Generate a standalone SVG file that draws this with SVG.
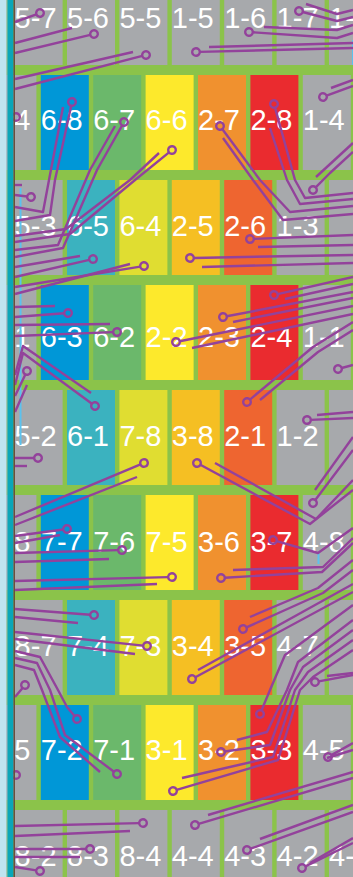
<svg xmlns="http://www.w3.org/2000/svg" width="353" height="877" viewBox="0 0 353 877">
<style>
.g{fill:#A7A9AC}.b{fill:#0097D7}.gr{fill:#6BB86B}.y{fill:#FDE92C}.o{fill:#F0912F}.r{fill:#EA2B2F}
.t{fill:#3BB2BF}.yg{fill:#E0DD31}.gd{fill:#F5BF23}.or{fill:#EE6530}
text{font-family:"Liberation Sans",Arial,sans-serif;font-size:29px;fill:#fff}
.w{fill:none;stroke:#93429B;stroke-width:2.4;stroke-linejoin:round}
.pin{stroke-dasharray:0 3.8 3000 0;marker-start:url(#pin)}
.dot{fill:none;stroke:#93429B;stroke-width:2.4}
</style>
<defs>
<marker id="pin" markerUnits="userSpaceOnUse" viewBox="-6 -6 12 12" markerWidth="12" markerHeight="12" refX="0" refY="0" orient="auto" overflow="visible"><circle r="3.8" fill="none" stroke="#93429B" stroke-width="2.4"/></marker>
</defs>
<rect width="353" height="877" fill="#8BC34A"/>
<g id="row0">
<g id="n5-7"><rect class="g" x="14.6" y="-30" width="48" height="95"/><text x="14.6" y="28">5-7</text></g>
<g id="n5-6"><rect class="g" x="67" y="-30" width="48" height="95"/><text x="67" y="28">5-6</text></g>
<g id="n5-5"><rect class="g" x="119.4" y="-30" width="48" height="95"/><text x="119.4" y="28">5-5</text></g>
<g id="n1-5"><rect class="g" x="171.8" y="-30" width="48" height="95"/><text x="171.8" y="28">1-5</text></g>
<g id="n1-6"><rect class="g" x="224.2" y="-30" width="48" height="95"/><text x="224.2" y="28">1-6</text></g>
<g id="n1-7"><rect class="g" x="276.6" y="-30" width="48" height="95"/><text x="276.6" y="28">1-7</text></g>
<g id="n1-8"><rect class="g" x="329" y="-30" width="48" height="95"/><text x="329" y="28">1-</text></g>
</g>
<g id="row1">
<g id="n5-4"><rect class="g" x="-11.6" y="75" width="48" height="95"/><text x="14.2" y="130">4</text></g>
<g id="n6-8"><rect class="b" x="40.8" y="75" width="48" height="95"/><text x="40.8" y="130">6-8</text></g>
<g id="n6-7"><rect class="gr" x="93.2" y="75" width="48" height="95"/><text x="93.2" y="130">6-7</text></g>
<g id="n6-6"><rect class="y" x="145.6" y="75" width="48" height="95"/><text x="145.6" y="130">6-6</text></g>
<g id="n2-7"><rect class="o" x="198" y="75" width="48" height="95"/><text x="198" y="130">2-7</text></g>
<g id="n2-8"><rect class="r" x="250.4" y="75" width="48" height="95"/><text x="250.4" y="130">2-8</text></g>
<g id="n1-4"><rect class="g" x="302.8" y="75" width="48" height="95"/><text x="302.8" y="130">1-4</text></g>
</g>
<g id="row2">
<g id="n5-3"><rect class="g" x="14.6" y="180" width="48" height="95"/><text x="14.6" y="236">5-3</text></g>
<g id="n6-5"><rect class="t" x="67" y="180" width="48" height="95"/><text x="67" y="236">6-5</text></g>
<g id="n6-4"><rect class="yg" x="119.4" y="180" width="48" height="95"/><text x="119.4" y="236">6-4</text></g>
<g id="n2-5"><rect class="gd" x="171.8" y="180" width="48" height="95"/><text x="171.8" y="236">2-5</text></g>
<g id="n2-6"><rect class="or" x="224.2" y="180" width="48" height="95"/><text x="224.2" y="236">2-6</text></g>
<g id="n1-3"><rect class="g" x="276.6" y="180" width="48" height="95"/><text x="276.6" y="236">1-3</text></g>
<g id="n2x"><rect class="g" x="329" y="180" width="48" height="95"/></g>
</g>
<g id="row3">
<g id="n5-1"><rect class="g" x="-11.6" y="285" width="48" height="95"/><text x="14.2" y="347">1</text></g>
<g id="n6-3"><rect class="b" x="40.8" y="285" width="48" height="95"/><text x="40.8" y="347">6-3</text></g>
<g id="n6-2"><rect class="gr" x="93.2" y="285" width="48" height="95"/><text x="93.2" y="347">6-2</text></g>
<g id="n2-2"><rect class="y" x="145.6" y="285" width="48" height="95"/><text x="145.6" y="347">2-2</text></g>
<g id="n2-3"><rect class="o" x="198" y="285" width="48" height="95"/><text x="198" y="347">2-3</text></g>
<g id="n2-4"><rect class="r" x="250.4" y="285" width="48" height="95"/><text x="250.4" y="347">2-4</text></g>
<g id="n1-1"><rect class="g" x="302.8" y="285" width="48" height="95"/><text x="302.8" y="347">1-1</text></g>
</g>
<g id="row4">
<g id="n5-2"><rect class="g" x="14.6" y="390" width="48" height="95"/><text x="14.6" y="446">5-2</text></g>
<g id="n6-1"><rect class="t" x="67" y="390" width="48" height="95"/><text x="67" y="446">6-1</text></g>
<g id="n7-8"><rect class="yg" x="119.4" y="390" width="48" height="95"/><text x="119.4" y="446">7-8</text></g>
<g id="n3-8"><rect class="gd" x="171.8" y="390" width="48" height="95"/><text x="171.8" y="446">3-8</text></g>
<g id="n2-1"><rect class="or" x="224.2" y="390" width="48" height="95"/><text x="224.2" y="446">2-1</text></g>
<g id="n1-2"><rect class="g" x="276.6" y="390" width="48" height="95"/><text x="276.6" y="446">1-2</text></g>
<g id="n4x"><rect class="g" x="329" y="390" width="48" height="95"/></g>
</g>
<g id="row5">
<g id="n8-8"><rect class="g" x="-11.6" y="495" width="48" height="95"/><text x="14.2" y="552">8</text></g>
<g id="n7-7"><rect class="b" x="40.8" y="495" width="48" height="95"/><text x="40.8" y="552">7-7</text></g>
<g id="n7-6"><rect class="gr" x="93.2" y="495" width="48" height="95"/><text x="93.2" y="552">7-6</text></g>
<g id="n7-5"><rect class="y" x="145.6" y="495" width="48" height="95"/><text x="145.6" y="552">7-5</text></g>
<g id="n3-6"><rect class="o" x="198" y="495" width="48" height="95"/><text x="198" y="552">3-6</text></g>
<g id="n3-7"><rect class="r" x="250.4" y="495" width="48" height="95"/><text x="250.4" y="552">3-7</text></g>
<g id="n4-8"><rect class="g" x="302.8" y="495" width="48" height="95"/><text x="302.8" y="552">4-8</text></g>
</g>
<g id="row6">
<g id="n8-7"><rect class="g" x="14.6" y="600" width="48" height="95"/><text x="14.6" y="656">8-7</text></g>
<g id="n7-4"><rect class="t" x="67" y="600" width="48" height="95"/><text x="67" y="656">7-4</text></g>
<g id="n7-3"><rect class="yg" x="119.4" y="600" width="48" height="95"/><text x="119.4" y="656">7-3</text></g>
<g id="n3-4"><rect class="gd" x="171.8" y="600" width="48" height="95"/><text x="171.8" y="656">3-4</text></g>
<g id="n3-5"><rect class="or" x="224.2" y="600" width="48" height="95"/><text x="224.2" y="656">3-5</text></g>
<g id="n4-7"><rect class="g" x="276.6" y="600" width="48" height="95"/><text x="276.6" y="656">4-7</text></g>
<g id="n6x"><rect class="g" x="329" y="600" width="48" height="95"/></g>
</g>
<g id="row7">
<g id="n8-5"><rect class="g" x="-11.6" y="705" width="48" height="95"/><text x="14.2" y="760">5</text></g>
<g id="n7-2"><rect class="b" x="40.8" y="705" width="48" height="95"/><text x="40.8" y="760">7-2</text></g>
<g id="n7-1"><rect class="gr" x="93.2" y="705" width="48" height="95"/><text x="93.2" y="760">7-1</text></g>
<g id="n3-1"><rect class="y" x="145.6" y="705" width="48" height="95"/><text x="145.6" y="760">3-1</text></g>
<g id="n3-2"><rect class="o" x="198" y="705" width="48" height="95"/><text x="198" y="760">3-2</text></g>
<g id="n3-3"><rect class="r" x="250.4" y="705" width="48" height="95"/><text x="250.4" y="760">3-3</text></g>
<g id="n4-5"><rect class="g" x="302.8" y="705" width="48" height="95"/><text x="302.8" y="760">4-5</text></g>
</g>
<g id="row8">
<g id="n8-2"><rect class="g" x="14.6" y="810" width="48" height="95"/><text x="14.6" y="866">8-2</text></g>
<g id="n8-3"><rect class="g" x="67" y="810" width="48" height="95"/><text x="67" y="866">8-3</text></g>
<g id="n8-4"><rect class="g" x="119.4" y="810" width="48" height="95"/><text x="119.4" y="866">8-4</text></g>
<g id="n4-4"><rect class="g" x="171.8" y="810" width="48" height="95"/><text x="171.8" y="866">4-4</text></g>
<g id="n4-3"><rect class="g" x="224.2" y="810" width="48" height="95"/><text x="224.2" y="866">4-3</text></g>
<g id="n4-2"><rect class="g" x="276.6" y="810" width="48" height="95"/><text x="276.6" y="866">4-2</text></g>
<g id="n4-1"><rect class="g" x="329" y="810" width="48" height="95"/><text x="329" y="866">4-</text></g>
</g>
<g id="accents" fill="#5BC2EE">
<rect x="19.5" y="188" width="2" height="257"/>
<rect x="317.5" y="552" width="2" height="12"/>
<rect x="352" y="40" width="1" height="25"/>
</g>
<g id="connectors">
<path class="w pin" d="M40,13 L15,22"/>
<path class="w" d="M15,43 L72,28"/>
<path class="w pin" d="M94,34 L15,53"/>
<path class="w" d="M15,79 L133,52"/>
<path class="w pin" d="M146,55 L15,89"/>
<path class="w" d="M306,4 L337,14 L353,10"/>
<path class="w pin" d="M299,11 L337,21 L353,17"/>
<path class="w" d="M264,27 L337,30 L353,25"/>
<path class="w pin" d="M249,32 L337,38 L353,33"/>
<path class="w" d="M209,47 L353,43"/>
<path class="w pin" d="M196,52 L353,48"/>
<circle class="dot" cx="16" cy="117" r="3.8"/>
<path class="w pin" d="M72,102 L55,180 L50,215 L15,221"/>
<path class="w" d="M63,107 L49,180 L43,212 L15,207"/>
<path class="w pin" d="M124,122 L97,170 L63,248 L15,257"/>
<path class="w" d="M115,126 L90,170 L58,245 L15,250"/>
<path class="w pin" d="M172,150 L135,180 L70,234 L15,242"/>
<path class="w" d="M159,153 L130,180 L66,229 L15,236"/>
<path class="w pin" d="M220,126 L260,180 L290,212 L353,206"/>
<path class="w" d="M223,138 L253,180 L283,220 L353,214"/>
<path class="w pin" d="M274,104 L295,180 L305,198 L353,193"/>
<path class="w" d="M270,128 L287,180 L300,204 L353,199"/>
<path class="w pin" d="M323,97 L353,86"/>
<path class="w" d="M331,88 L353,80"/>
<path class="w" d="M316,177 L353,143"/>
<path class="w pin" d="M313,190 L330,173 L353,152"/>
<path class="w pin" d="M250,239 L353,235"/>
<path class="w" d="M258,247 L353,245"/>
<path class="w pin" d="M190,258 L353,255"/>
<path class="w" d="M202,267 L353,263"/>
<path class="w" d="M15,185 L22,185"/>
<path class="w pin" d="M31,197 L15,195"/>
<path class="w" d="M15,267 L80,256"/>
<path class="w pin" d="M93,259 L15,277"/>
<path class="w pin" d="M144,266 L15,287"/>
<path class="w" d="M15,294 L130,264"/>
<path class="w" d="M15,307 L55,306"/>
<path class="w pin" d="M68,313 L15,317"/>
<path class="w" d="M15,325 L110,324"/>
<path class="w pin" d="M117,332 L15,336"/>
<path class="w" d="M15,375 L23,346 L91,393"/>
<path class="w pin" d="M95,406 L23,353 L15,385"/>
<path class="w pin" d="M27,371 L15,396"/>
<path class="w" d="M27,385 L15,412"/>
<path class="w pin" d="M274,295 L353,277"/>
<path class="w" d="M285,299 L353,284"/>
<path class="w pin" d="M223,317 L353,292"/>
<path class="w" d="M233,322 L353,298"/>
<path class="w pin" d="M176,342 L353,306"/>
<path class="w" d="M192,348 L353,314"/>
<path class="w pin" d="M247,402 L313,347 L353,322"/>
<path class="w" d="M260,400 L318,352 L353,330"/>
<path class="w pin" d="M338,369 L353,365"/>
<path class="w pin" d="M307,420 L353,418"/>
<path class="w" d="M317,415 L353,412"/>
<path class="w pin" d="M38,458 L15,458"/>
<path class="w" d="M15,466 L27,466"/>
<path class="w pin" d="M144,463 L15,517"/>
<path class="w" d="M137,477 L15,525"/>
<path class="w pin" d="M313,503 L353,450"/>
<path class="w" d="M315,490 L353,437"/>
<path class="w pin" d="M197,463 L310,524 L353,490"/>
<path class="w" d="M215,463 L316,519 L353,480"/>
<path class="w pin" d="M67,529 L15,536"/>
<path class="w" d="M15,543 L60,535"/>
<path class="w pin" d="M122,550 L15,553"/>
<path class="w" d="M15,562 L109,559"/>
<path class="w pin" d="M172,577 L15,581"/>
<path class="w" d="M15,590 L157,584"/>
<path class="w pin" d="M273,540 L318,553 L353,528"/>
<path class="w" d="M233,570 L323,567 L353,538"/>
<path class="w pin" d="M221,578 L322,572 L353,543"/>
<path class="w pin" d="M94,615 L15,609"/>
<path class="w" d="M15,617 L78,623"/>
<path class="w pin" d="M147,646 L15,632"/>
<path class="w" d="M15,639 L135,654"/>
<path class="w" d="M250,617 L318,588 L353,560"/>
<path class="w pin" d="M243,629 L323,593 L353,570"/>
<path class="w pin" d="M192,679 L353,592"/>
<path class="w" d="M198,670 L353,584"/>
<path class="w pin" d="M315,682 L353,675"/>
<path class="w" d="M327,676 L353,673"/>
<path class="w pin" d="M25,685 L15,697"/>
<path class="w pin" d="M77,719 L67,707 L58,690 L40,657 L15,651"/>
<path class="w pin" d="M117,774 L65,735 L50,690 L37,663 L15,658"/>
<path class="w" d="M100,772 L60,737 L42,690 L34,670 L15,665"/>
<path class="w pin" d="M260,714 L270,690 L285,655 L353,605"/>
<path class="w" d="M237,740 L267,732 L287,690 L298,662 L353,620"/>
<path class="w pin" d="M221,752 L270,745 L290,690 L303,667 L353,630"/>
<path class="w" d="M182,778 L273,757 L295,690 L308,672 L353,640"/>
<path class="w pin" d="M173,791 L278,760 L300,690 L313,677 L353,650"/>
<path class="w pin" d="M328,757 L353,743"/>
<path class="w" d="M327,758 L353,750"/>
<circle class="dot" cx="16" cy="775" r="3.8"/>
<path class="w" d="M208,815 L353,772"/>
<path class="w pin" d="M195,825 L353,778"/>
<path class="w" d="M260,839 L353,805"/>
<path class="w pin" d="M247,850 L353,812"/>
<path class="w pin" d="M302,868 L353,843"/>
<path class="w" d="M310,863 L353,838"/>
<path class="w pin" d="M143,823 L15,826"/>
<path class="w" d="M15,836 L130,831"/>
<path class="w pin" d="M90,849 L15,849"/>
<path class="w" d="M15,857 L80,857"/>
<path class="w pin" d="M40,871 L15,867"/>
</g>
<g id="edge">
<rect x="0" y="0" width="6.5" height="877" fill="#BFE4F0"/>
<rect x="6.5" y="0" width="1" height="877" fill="#9DBCC6"/>
<rect x="7.5" y="0" width="6" height="877" fill="#0AA6B8"/>
<rect x="13.5" y="0" width="1.5" height="877" fill="#6B4F3C"/>
</g>
</svg>
